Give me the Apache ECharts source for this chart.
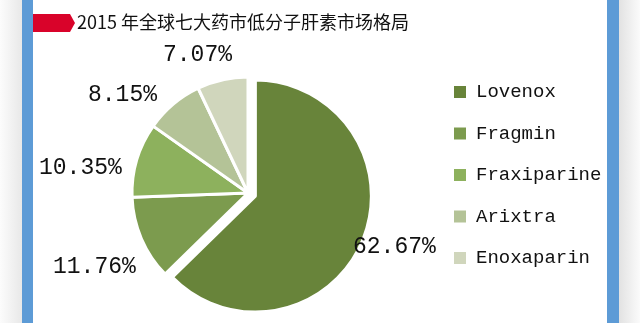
<!DOCTYPE html>
<html><head><meta charset="utf-8">
<script src="https://cdn.jsdelivr.net/npm/echarts@6/dist/echarts.min.js"></script>
<style>html,body{margin:0;padding:0;background:#fff}#c{width:640px;height:323px}</style>
</head><body><div id="c"></div>
<script>
var title = '2015 年全球七大药市低分子肝素市场格局';
var categories = ['Lovenox', 'Fragmin', 'Fraxiparine', 'Arixtra', 'Enoxaparin'];
var shares = [62.67, 11.76, 10.35, 8.15, 7.07];
var colors = ['#68843a', '#7c9b4e', '#8db15d', '#b4c397', '#d0d6bc'];
var labelPos = [[353, 247], [53, 267], [39, 168], [88, 95], [163, 55]];

var CX = 248, CY = 193, R = 116, EXPLODE = 8;
var total = shares.reduce(function (a, b) { return a + b; }, 0);
var rest = total - shares[0];
var mid = 2 * Math.PI * (shares[0] / 2) / total;
var center2 = [CX + Math.sin(mid) * EXPLODE, CY - Math.cos(mid) * EXPLODE];

var hidden = {itemStyle: {color: 'rgba(0,0,0,0)', borderWidth: 0}, label: {show: false}, silent: true};
var data1 = [Object.assign({name: '', value: shares[0]}, hidden)];
for (var i = 1; i < categories.length; i++) {
  data1.push({name: categories[i], value: shares[i], itemStyle: {color: colors[i]}});
}
var data2 = [
  {name: categories[0], value: shares[0], itemStyle: {color: colors[0]}},
  Object.assign({name: '', value: rest}, hidden)
];
var idx1 = [0, 1, 2, 3, 4];
var idx2 = [0, -1];

function layoutFor(map) {
  return function (p) {
    var k = map[p.dataIndex];
    if (k < 0) return {};
    var q = labelPos[k];
    return {x: q[0], y: q[1], align: 'left', verticalAlign: 'middle'};
  };
}

var common = {
  type: 'pie', radius: R, startAngle: 90, selectedMode: false,
  itemStyle: {borderColor: '#fff', borderWidth: 3},
  label: {show: true, position: 'inside', overflow: 'none', formatter: '{c}%', fontFamily: 'Liberation Mono', fontSize: 23, color: '#111'},
  labelLine: {show: false},
  emphasis: {disabled: true}
};

var chart = echarts.init(document.getElementById('c'), null, {renderer: 'canvas'});
chart.setOption({
  animation: false,
  graphic: [
    {type: 'rect', shape: {x: 0, y: 0, width: 22, height: 323}, style: {fill: new echarts.graphic.LinearGradient(0, 0, 1, 0, [{offset: 0, color: '#fcfcfc'}, {offset: 1, color: '#e8e8e8'}])}},
    {type: 'rect', shape: {x: 22, y: 0, width: 11, height: 323}, style: {fill: '#5d9bd6'}},
    {type: 'rect', shape: {x: 607, y: 0, width: 12, height: 323}, style: {fill: '#5d9bd6'}},
    {type: 'rect', shape: {x: 619, y: 0, width: 21, height: 323}, style: {fill: new echarts.graphic.LinearGradient(0, 0, 1, 0, [{offset: 0, color: '#e2e2e2'}, {offset: 1, color: '#fbfbfb'}])}},
    {type: 'polygon', shape: {points: [[33, 14], [70, 14], [75, 23], [70, 32], [33, 32]]}, style: {fill: '#d9032a'}},
    {type: 'text', left: 77, top: 13, style: {text: title, font: '18px "Noto Sans CJK SC", sans-serif', fill: '#111'}}
  ],
  legend: {
    orient: 'vertical', left: 452, top: 82, padding: 0,
    icon: 'rect', itemWidth: 14, itemHeight: 14, itemGap: 21.5,
    selectedMode: false,
    data: categories,
    textStyle: {fontFamily: 'Liberation Mono', fontSize: 19, lineHeight: 20, color: '#111', padding: [0, 0, 0, 4]}
  },
  series: [
    Object.assign({}, common, {center: [CX, CY], data: data1, labelLayout: layoutFor(idx1)}),
    Object.assign({}, common, {center: center2, data: data2, labelLayout: layoutFor(idx2)})
  ]
});
</script></body></html>
